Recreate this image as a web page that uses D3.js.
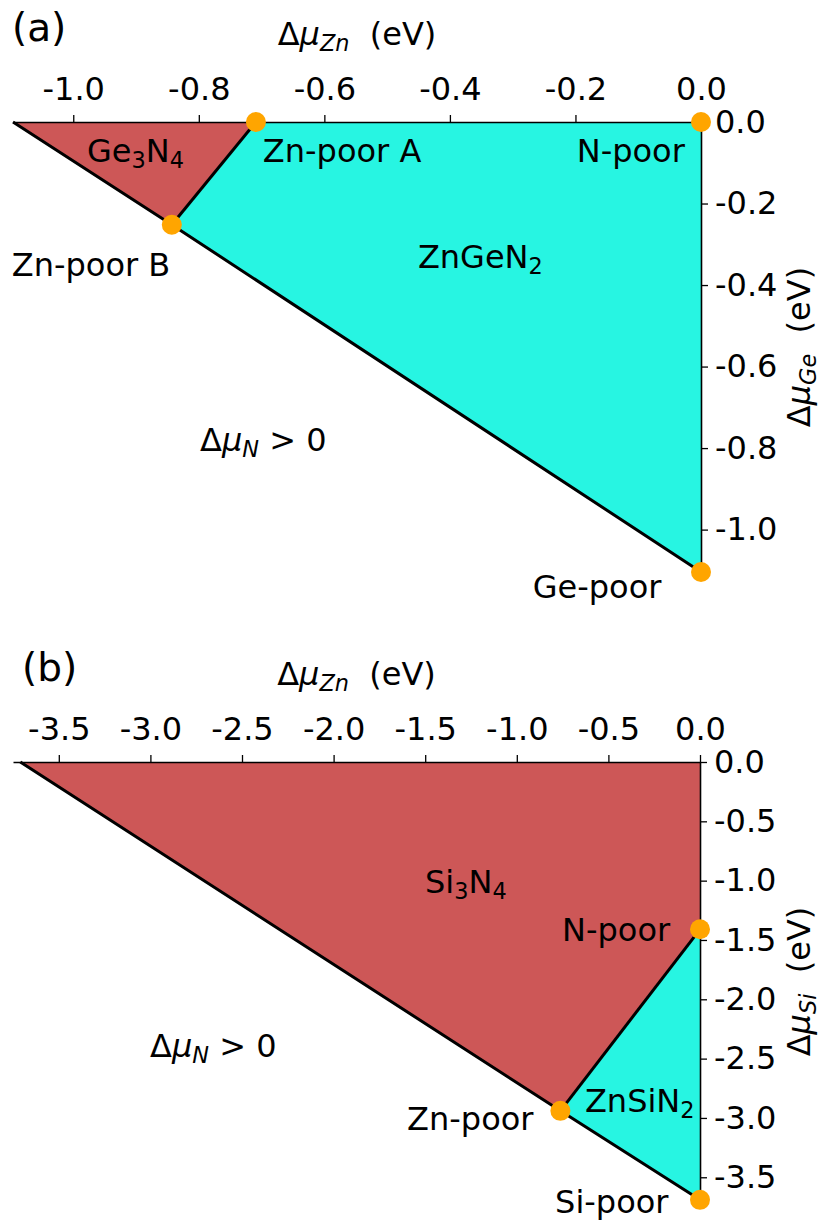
<!DOCTYPE html>
<html lang="en">
<head>
<meta charset="utf-8">
<title>Chemical potential stability regions</title>
<script src="https://cdn.jsdelivr.net/npm/d3@7"></script>
<style>
  body { margin: 0; background: #fff; }
  text { font-family: "DejaVu Sans", sans-serif; white-space: pre; }
</style>
</head>
<body>
<script>
// ---- panel (a): Zn-Ge-N ----
var xTicksA = [-1.0, -0.8, -0.6, -0.4, -0.2, 0.0];
var yTicksA = [0.0, -0.2, -0.4, -0.6, -0.8, -1.0];
var xMinA = -1.096, yMinA = -1.104;
var binaryA = [[-1.096, 0], [-0.709, 0], [-0.843, -0.252]];            // Ge3N4
var ternaryA = [[-0.709, 0], [0, 0], [0, -1.104], [-0.843, -0.252]];   // ZnGeN2
var hullA = [[-1.096, 0], [-0.843, -0.252], [0, -1.104]];
var borderA = [[-0.709, 0], [-0.843, -0.252]];
var pointsA = [[-0.709, 0], [0, 0], [-0.843, -0.252], [0, -1.104]];
var labelsA = [
  {x: -0.978, y: -0.098, segs: [["Ge"], ["3", "sub"], ["N"], ["4", "sub"]]},
  {x: -0.698, y: -0.098, segs: [["Zn-poor A"]]},
  {x: -0.198, y: -0.098, segs: [["N-poor"]]},
  {x: -0.451, y: -0.358, segs: [["ZnGeN"], ["2", "sub"]]},
  {x: -1.098, y: -0.378, segs: [["Zn-poor B"]]},
  {x: -0.798, y: -0.808, segs: [["Δ"], ["μ", "i"], ["N", "isub"], [" > 0"]]},
  {x: -0.268, y: -1.168, segs: [["Ge-poor"]]}
];

// ---- panel (b): Zn-Si-N ----
var xTicksB = [-3.5, -3.0, -2.5, -2.0, -1.5, -1.0, -0.5, 0.0];
var yTicksB = [0.0, -0.5, -1.0, -1.5, -2.0, -2.5, -3.0, -3.5];
var xMinB = -3.75, yMinB = -3.70;
var binaryB = [[-3.71, 0], [0, 0], [0, -1.41], [-0.762, -2.94]];       // Si3N4
var ternaryB = [[0, -1.41], [-0.762, -2.94], [0, -3.69]];              // ZnSiN2
var hullB = [[-3.71, 0], [-0.762, -2.94], [0, -3.69]];
var borderB = [[0, -1.41], [-0.762, -2.94]];
var pointsB = [[0, -1.41], [-0.762, -2.94], [0, -3.69]];
var labelsB = [
  {x: -1.501, y: -1.105, segs: [["Si"], ["3", "sub"], ["N"], ["4", "sub"]]},
  {x: -0.753, y: -1.51, segs: [["N-poor"]]},
  {x: -3.002, y: -2.487, segs: [["Δ"], ["μ", "i"], ["N", "isub"], [" > 0"]]},
  {x: -1.599, y: -3.103, segs: [["Zn-poor"]]},
  {x: -0.628, y: -2.951, segs: [["ZnSiN"], ["2", "sub"]]},
  {x: -0.791, y: -3.803, segs: [["Si-poor"]]}
];

var W = 823, H = 1222;
var fs = 32;
var red = "#cd5757", cyan = "#27f5e2", dot = "#ffa500";

var svg = d3.select("body").append("svg")
  .attr("width", W)
  .attr("height", H);

// writes mixed text (italic, subscript) as tspans
function richText(sel, segs, size) {
  var shift = 0;
  segs.forEach(function(s) {
    var st = s[1] || "";
    var t = sel.append("tspan").text(s[0]);
    var target = st.indexOf("sub") >= 0 ? size * 0.18 : 0;
    if (target !== shift) { t.attr("dy", target - shift); shift = target; }
    if (st.indexOf("i") === 0) t.attr("font-style", "italic");
    if (st.indexOf("sub") >= 0) t.attr("font-size", size * 0.7);
  });
}

function fmt(d) { return d.toFixed(1); }

function drawPanel(p) {
  var x = d3.scaleLinear().domain([p.xMin, 0]).range([p.left, p.right]);
  var y = d3.scaleLinear().domain([0, p.yMin]).range([p.top, p.bottom]);
  var line = d3.line().x(function(d) { return x(d[0]); }).y(function(d) { return y(d[1]); });
  var g = svg.append("g");

  g.append("path").attr("d", line(p.binary) + "Z").attr("fill", red);
  g.append("path").attr("d", line(p.ternary) + "Z").attr("fill", cyan);

  [p.hull, p.border].forEach(function(pts) {
    g.append("path").attr("d", line(pts))
      .attr("fill", "none")
      .attr("stroke", "black")
      .attr("stroke-width", 3)
      .attr("stroke-linejoin", "round");
  });

  // axes on top and right
  var top = g.append("g")
    .attr("transform", "translate(0," + p.top + ")")
    .call(d3.axisTop(x).tickValues(p.xTicks).tickFormat(fmt).tickSize(7).tickSizeOuter(0).tickPadding(15));
  var right = g.append("g")
    .attr("transform", "translate(" + p.right + ",0)")
    .call(d3.axisRight(y).tickValues(p.yTicks).tickFormat(fmt).tickSize(7).tickSizeOuter(0).tickPadding(7));
  [top, right].forEach(function(a) {
    a.attr("font-size", fs).attr("font-family", "DejaVu Sans");
    a.select(".domain").attr("stroke-width", 1.6);
    a.selectAll(".tick line").attr("stroke-width", 1.3);
    a.selectAll(".tick text").attr("fill", "black");
  });

  g.selectAll("circle")
    .data(p.points)
    .enter()
    .append("circle")
    .attr("cx", function(d) { return x(d[0]); })
    .attr("cy", function(d) { return y(d[1]); })
    .attr("r", 10)
    .attr("fill", dot);

  p.labels.forEach(function(l) {
    var t = g.append("text")
      .attr("x", x(l.x))
      .attr("y", y(l.y))
      .attr("font-size", fs);
    richText(t, l.segs, fs);
  });

  // axis titles
  var xt = g.append("text")
    .attr("x", (p.left + p.right) / 2)
    .attr("y", p.top - 77)
    .attr("text-anchor", "middle")
    .attr("font-size", fs);
  richText(xt, [["Δ"], ["μ", "i"], ["Zn", "isub"], ["  (eV)"]], fs);

  var yt = g.append("text")
    .attr("transform", "translate(810," + (p.top + p.bottom) / 2 + ") rotate(-90)")
    .attr("text-anchor", "middle")
    .attr("font-size", fs);
  richText(yt, [["Δ"], ["μ", "i"], [p.elem, "isub"], ["  (eV)"]], fs);

  g.append("text")
    .attr("x", p.left + p.tagDx)
    .attr("y", p.top - 81)
    .attr("font-size", 39)
    .text(p.tag);
}

drawPanel({
  tag: "(a)", tagDx: -1, elem: "Ge",
  xMin: xMinA, yMin: yMinA, left: 13, right: 701, top: 122, bottom: 572,
  xTicks: xTicksA, yTicks: yTicksA,
  binary: binaryA, ternary: ternaryA, hull: hullA, border: borderA,
  points: pointsA, labels: labelsA
});

drawPanel({
  tag: "(b)", tagDx: 9, elem: "Si",
  xMin: xMinB, yMin: yMinB, left: 13, right: 700, top: 762, bottom: 1201,
  xTicks: xTicksB, yTicks: yTicksB,
  binary: binaryB, ternary: ternaryB, hull: hullB, border: borderB,
  points: pointsB, labels: labelsB
});
</script>
</body>
</html>
